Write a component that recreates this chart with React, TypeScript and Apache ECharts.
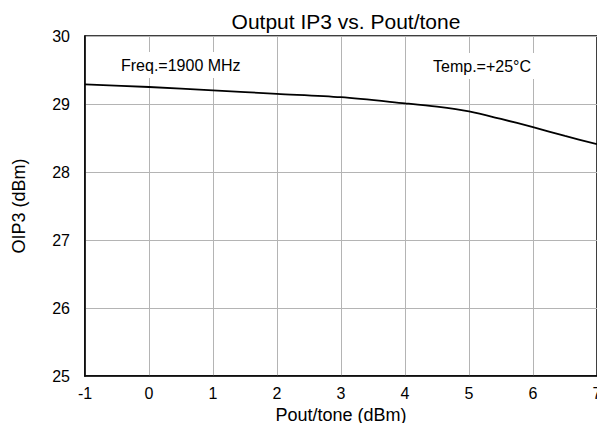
import React, { useEffect, useRef } from "react";
import * as echarts from "echarts";

const poutTone = [-1, 0, 1, 2, 3, 4, 4.5, 5, 5.5, 6, 6.5, 7];
const oip3 = [29.29, 29.25, 29.2, 29.15, 29.1, 29.01, 28.96, 28.89, 28.78, 28.66, 28.53, 28.41];
const titleText = "Output IP3 vs. Pout/tone";
const xName = "Pout/tone (dBm)";
const yName = "OIP3 (dBm)";
const noteFreq = "Freq.=1900 MHz";
const noteTemp = "Temp.=+25°C";

const FONT = "'Liberation Sans', Arial, sans-serif";

export default function App() {
  const ref = useRef<HTMLDivElement>(null);
  useEffect(() => {
    if (!ref.current) return;
    const chart = echarts.init(ref.current, null, { renderer: "svg" });
    chart.setOption({
      animation: false,
      backgroundColor: "#ffffff",
      textStyle: { fontFamily: FONT },
      title: {
        text: titleText,
        left: 341,
        top: 6,
        textAlign: "center",
        textStyle: { fontFamily: FONT, fontSize: 21, fontWeight: "normal", color: "#000" },
      },
      grid: {
        left: 85,
        right: 8,
        top: 36,
        bottom: 55,
        show: true,
        borderColor: "#000",
        borderWidth: 1.5,
        backgroundColor: "transparent",
      },
      xAxis: {
        type: "value",
        min: -1,
        max: 7,
        interval: 1,
        name: xName,
        nameLocation: "middle",
        nameGap: 28,
        nameTextStyle: { fontFamily: FONT, fontSize: 18, color: "#000" },
        axisLine: { show: true, onZero: false, lineStyle: { color: "#000", width: 1.5 } },
        axisTick: { show: false },
        axisLabel: { fontFamily: FONT, fontSize: 16, color: "#000", margin: 9 },
        splitLine: { show: true, lineStyle: { color: "#b4b4b4", width: 1 } },
      },
      yAxis: {
        type: "value",
        min: 25,
        max: 30,
        interval: 1,
        name: yName,
        nameLocation: "middle",
        nameGap: 57,
        nameTextStyle: { fontFamily: FONT, fontSize: 18, color: "#000" },
        axisLine: { show: true, onZero: false, lineStyle: { color: "#000", width: 1.5 } },
        axisTick: { show: false },
        axisLabel: { fontFamily: FONT, fontSize: 16, color: "#000", margin: 15 },
        splitLine: { show: true, lineStyle: { color: "#b4b4b4", width: 1 } },
      },
      graphic: [
        {
          type: "text",
          left: 116,
          top: 52,
          z: 10,
          style: {
            text: noteFreq,
            font: `16px ${FONT}`,
            fill: "#000",
            backgroundColor: "#fff",
            padding: [5, 5, 5, 5],
          },
        },
        {
          type: "text",
          left: 428,
          top: 53,
          z: 10,
          style: {
            text: noteTemp,
            font: `16px ${FONT}`,
            fill: "#000",
            backgroundColor: "#fff",
            padding: [5, 5, 5, 5],
          },
        },
      ],
      series: [
        {
          type: "line",
          data: poutTone.map((x, i) => [x, oip3[i]]),
          smooth: 0.3,
          showSymbol: false,
          lineStyle: { color: "#000", width: 1.8 },
          z: 20,
        },
      ],
    });
    return () => chart.dispose();
  }, []);
  return <div ref={ref} style={{ width: 605, height: 431, margin: -8 }} />;
}
